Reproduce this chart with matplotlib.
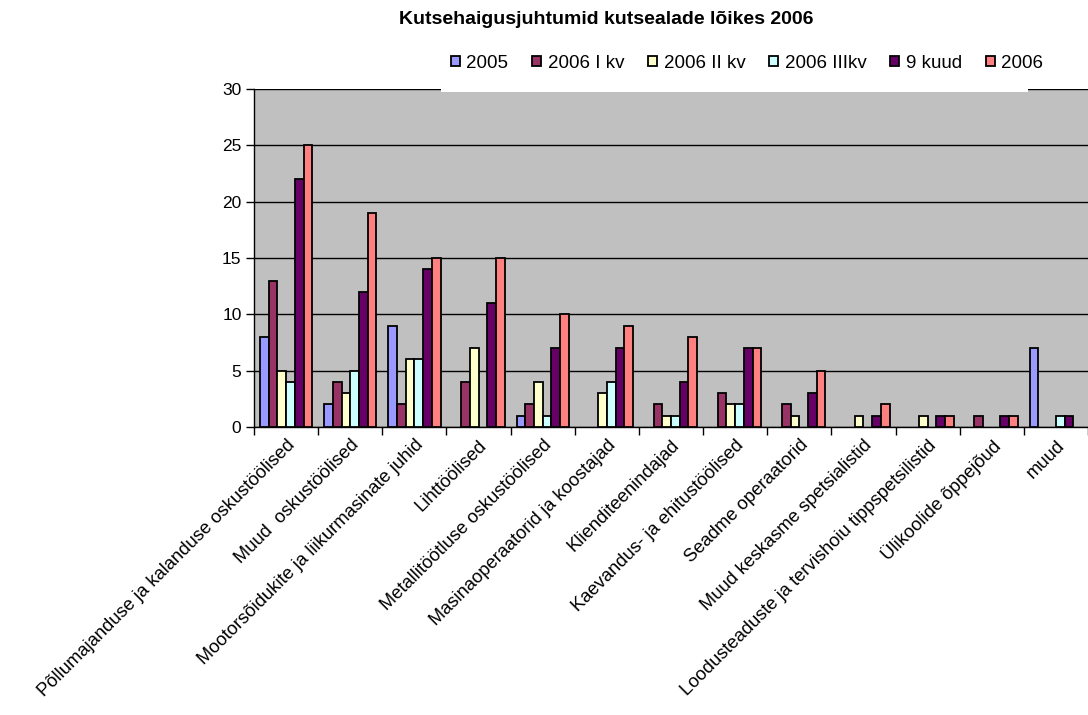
import matplotlib.pyplot as plt
import numpy as np
from matplotlib.patches import Rectangle

plt.rcParams['font.family'] = ['Liberation Sans', 'DejaVu Sans']

# andmed
kutsealad = [
    'Põllumajanduse ja kalanduse oskustöölised',
    'Muud  oskustöölised',
    'Mootorsõidukite ja liikurmasinate juhid',
    'Lihttöölised',
    'Metallitöötluse oskustöölised',
    'Masinaoperaatorid ja koostajad',
    'Klienditeenindajad',
    'Kaevandus- ja ehitustöölised',
    'Seadme operaatorid',
    'Muud keskasme spetsialistid',
    'Loodusteaduste ja tervishoiu tippspetsilistid',
    'Ülikoolide õppejõud',
    'muud',
]
seeria_nimed = ['2005', '2006 I kv', '2006 II kv', '2006 IIIkv', '9 kuud', '2006']
v2005 = [8, 2, 9, 0, 1, 0, 0, 0, 0, 0, 0, 0, 7]
v2006_1 = [13, 4, 2, 4, 2, 0, 2, 3, 2, 0, 0, 1, 0]
v2006_2 = [5, 3, 6, 7, 4, 3, 1, 2, 1, 1, 1, 0, 0]
v2006_3 = [4, 5, 6, 0, 1, 4, 1, 2, 0, 0, 0, 0, 1]
v9kuud = [22, 12, 14, 11, 7, 7, 4, 7, 3, 1, 1, 1, 1]
v2006 = [25, 19, 15, 15, 10, 9, 8, 7, 5, 2, 1, 1, 0]
seeriad = [v2005, v2006_1, v2006_2, v2006_3, v9kuud, v2006]
varvid = ['#9999FF', '#993366', '#FFFFCC', '#CCFFFF', '#660066', '#FF8080']

fig = plt.figure(figsize=(10.88, 7.15), dpi=100)
ax = fig.add_axes([254 / 1088, 1 - 427 / 715, 834 / 1088, 338 / 715])
ax.set_facecolor('#C0C0C0')

x = np.arange(len(kutsealad))
w = 0.136
for i, (vals, nimi, c) in enumerate(zip(seeriad, seeria_nimed, varvid)):
    vals = np.array(vals)
    m = vals > 0  # nullväärtusi Excel ei joonista
    ax.bar(x[m] + (i - 2.5) * w, vals[m], w, color=c, edgecolor='black', linewidth=1.3,
           label=nimi, zorder=3)

ax.set_xlim(-0.5, len(kutsealad) - 0.5)
ax.set_ylim(0, 30)
ax.set_yticks(range(0, 31, 5))
ax.yaxis.grid(True, color='black', linewidth=1, zorder=1)
ax.set_axisbelow(True)
for s in ['top', 'right']:
    ax.spines[s].set_visible(False)
ax.spines['left'].set_linewidth(1)
ax.spines['bottom'].set_linewidth(1)

ax.set_xticks(x)
ax.set_xticklabels(kutsealad, rotation=45, ha='right', rotation_mode='anchor', fontsize=13.2)
ax.tick_params(axis='x', which='major', length=0, pad=7)
ax.set_xticks(np.arange(-0.5, len(kutsealad)), minor=True)
ax.tick_params(axis='x', which='minor', length=6, width=1)
ax.tick_params(axis='y', length=6, width=1, labelsize=12.5, pad=3)

# legendi valge taust
fig.patches.append(Rectangle((441 / 1088, 1 - 92 / 715), 587 / 1088, 46 / 715,
                             transform=fig.transFigure, facecolor='white',
                             edgecolor='none', zorder=1))
leg = fig.legend(loc='center', bbox_to_anchor=(747 / 1088, 1 - 63 / 715), ncol=6,
                 frameon=False, fontsize=13.5, handlelength=0.5, handleheight=0.5,
                 handletextpad=0.35, columnspacing=1.25)
leg.set_zorder(2)

fig.text(606 / 1088, 1 - 20 / 715, 'Kutsehaigusjuhtumid kutsealade lõikes 2006',
         ha='center', va='center', fontsize=14, fontweight='bold')

fig.savefig('out.png', dpi=100)
